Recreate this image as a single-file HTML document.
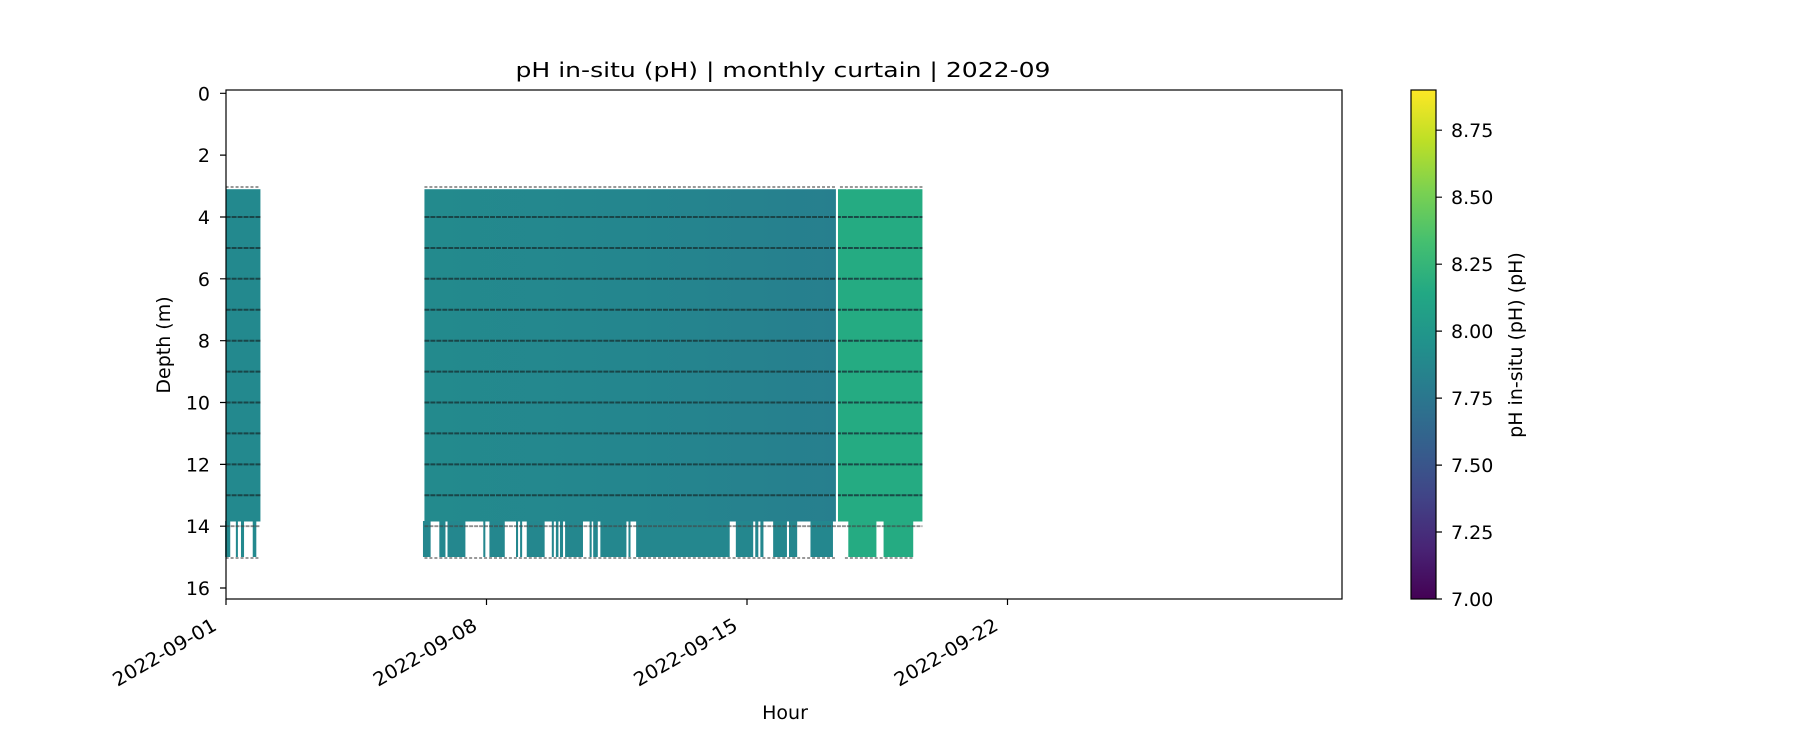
<!DOCTYPE html>
<html><head><meta charset="utf-8"><style>html,body{margin:0;padding:0;background:#fff}svg{display:block}text{font-family:"DejaVu Sans","Liberation Sans",sans-serif;fill:#000}</style></head>
<body>
<svg width="1800" height="750" viewBox="0 0 1800 750" xmlns="http://www.w3.org/2000/svg">
<defs>
<linearGradient id="vir" x1="0" y1="1" x2="0" y2="0">
<stop offset="0" stop-color="#440154"/><stop offset="0.1" stop-color="#482475"/><stop offset="0.2" stop-color="#414487"/><stop offset="0.3" stop-color="#355f8d"/><stop offset="0.4" stop-color="#2a788e"/><stop offset="0.5" stop-color="#21918c"/><stop offset="0.6" stop-color="#22a884"/><stop offset="0.7" stop-color="#44bf70"/><stop offset="0.8" stop-color="#7ad151"/><stop offset="0.9" stop-color="#bddf26"/><stop offset="1" stop-color="#fde725"/>
</linearGradient>
<linearGradient id="b2" x1="0" y1="0" x2="1" y2="0">
<stop offset="0" stop-color="#238a8d"/><stop offset="0.5" stop-color="#24868e"/><stop offset="1" stop-color="#277f8e"/>
</linearGradient>
</defs>
<text x="783" y="77" font-size="20" text-anchor="middle" textLength="535" lengthAdjust="spacingAndGlyphs">pH in-situ (pH) | monthly curtain | 2022-09</text>

<g transform="scale(0.994,1)">
<rect x="227" y="189.2" width="35" height="332.3" fill="#23898e"/>
<rect x="427" y="189.2" width="414" height="332.3" fill="url(#b2)"/>
<rect x="843" y="189.2" width="85" height="332.3" fill="#25ab82"/>
<g transform="translate(147.8,0) scale(0.5143,1)">
<g fill="#23898e">
<rect x="153" y="521" width="10" height="36"/><rect x="174" y="521" width="4" height="36"/><rect x="184" y="521" width="6" height="36"/><rect x="207" y="521" width="7" height="36"/>
</g>
<g fill="#24878e">
<rect x="540" y="521" width="15" height="36"/><rect x="572" y="521" width="12" height="36"/><rect x="588" y="521" width="35" height="36"/><rect x="658" y="521" width="4" height="36"/><rect x="670" y="521" width="30" height="36"/><rect x="722" y="521" width="4" height="36"/><rect x="730" y="521" width="4" height="36"/><rect x="743" y="521" width="35" height="36"/><rect x="792" y="521" width="4" height="36"/><rect x="800" y="521" width="5" height="36"/><rect x="808" y="521" width="6" height="36"/><rect x="818" y="521" width="35" height="36"/><rect x="866" y="521" width="4" height="36"/><rect x="873" y="521" width="9" height="36"/><rect x="887" y="521" width="51" height="36"/><rect x="942" y="521" width="4" height="36"/><rect x="957" y="521" width="183" height="36"/><rect x="1152" y="521" width="34" height="36"/><rect x="1190" y="521" width="6" height="36"/><rect x="1200" y="521" width="6" height="36"/><rect x="1225" y="521" width="27" height="36"/><rect x="1256" y="521" width="16" height="36"/><rect x="1298" y="521" width="44" height="36"/>
</g>
<g fill="#25ab82"><rect x="1372" y="521" width="55" height="36"/><rect x="1441" y="521" width="58" height="36"/></g>
</g>
<g stroke="#183a3c" stroke-width="2" opacity="0.85" stroke-dasharray="5 1">
<path d="M227 217H262M427 217H928M227 248H262M427 248H928M227 278.8H262M427 278.8H928M227 309.7H262M427 309.7H928M227 340.7H262M427 340.7H928M227 371.6H262M427 371.6H928M227 402.5H262M427 402.5H928M227 433.4H262M427 433.4H928M227 464.4H262M427 464.4H928M227 495.3H262M427 495.3H928"/>
</g>
<g stroke="#444" stroke-width="1.8" opacity="0.6" stroke-dasharray="4 1">
<path d="M227 526.2H262M427 526.2H928"/>
</g>
<g stroke="#999" stroke-width="2" stroke-dasharray="3 2">
<path d="M227 187H262M427 187H841M845 187H928M227 558H262M427 558H840M850 558H920"/>
</g>
<line x1="842" y1="185" x2="842" y2="521" stroke="#fff" stroke-width="2"/>
</g>

<rect x="226" y="90" width="1116" height="509" fill="none" stroke="#000" stroke-width="1.2"/>
<g stroke="#000" stroke-width="1.2">
<path d="M220 93.3H226M220 155.1H226M220 217H226M220 278.8H226M220 340.7H226M220 402.5H226M220 464.4H226M220 526.2H226M220 588H226"/>
<path d="M226 599V605M486.5 599V605M747 599V605M1007.5 599V605"/>
</g>
<g font-size="19" text-anchor="end">
<text x="210" y="100.3">0</text><text x="210" y="162.1">2</text><text x="210" y="224">4</text><text x="210" y="285.8">6</text><text x="210" y="347.7">8</text><text x="210" y="409.5">10</text><text x="210" y="471.4">12</text><text x="210" y="533.2">14</text><text x="210" y="595">16</text>
</g>
<g font-size="19" text-anchor="end">
<text transform="translate(218,629) rotate(-30)" textLength="116" lengthAdjust="spacingAndGlyphs">2022-09-01</text>
<text transform="translate(478.5,629) rotate(-30)" textLength="116" lengthAdjust="spacingAndGlyphs">2022-09-08</text>
<text transform="translate(739,629) rotate(-30)" textLength="116" lengthAdjust="spacingAndGlyphs">2022-09-15</text>
<text transform="translate(999.5,629) rotate(-30)" textLength="116" lengthAdjust="spacingAndGlyphs">2022-09-22</text>
</g>
<text x="785" y="719" font-size="19" text-anchor="middle">Hour</text>
<text transform="translate(170,345) rotate(-90)" font-size="19" text-anchor="middle">Depth (m)</text>

<rect x="1411" y="90" width="25" height="509" fill="url(#vir)" stroke="#000" stroke-width="1.2"/>
<g stroke="#000" stroke-width="1.2">
<path d="M1436 599H1442M1436 532H1442M1436 465.1H1442M1436 398.1H1442M1436 331.1H1442M1436 264.2H1442M1436 197.2H1442M1436 130.2H1442"/>
</g>
<g font-size="19">
<text x="1451" y="606">7.00</text><text x="1451" y="539">7.25</text><text x="1451" y="472.1">7.50</text><text x="1451" y="405.1">7.75</text><text x="1451" y="338.1">8.00</text><text x="1451" y="271.2">8.25</text><text x="1451" y="204.2">8.50</text><text x="1451" y="137.2">8.75</text>
</g>
<text transform="translate(1522,345) rotate(-90)" font-size="19" text-anchor="middle">pH in-situ (pH) (pH)</text>
</svg>
</body></html>
